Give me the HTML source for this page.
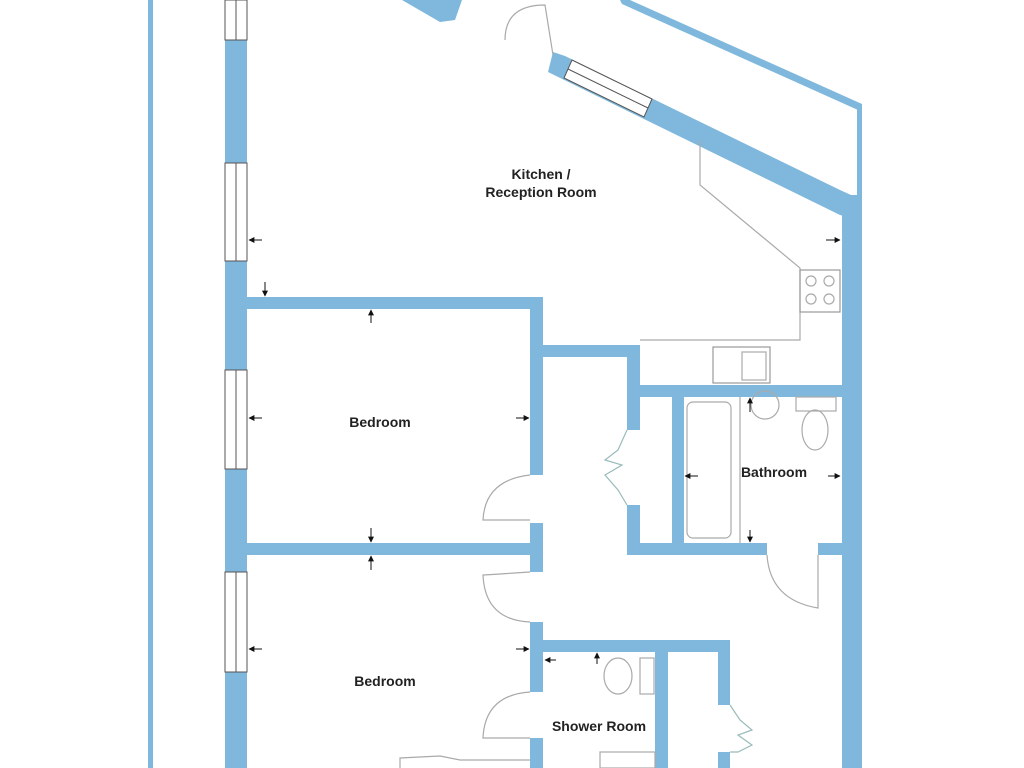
<!DOCTYPE html>
<html><head><meta charset="utf-8"><style>
html,body{margin:0;padding:0;background:#fff;width:1024px;height:768px;overflow:hidden}
svg{display:block}
text{font-family:"Liberation Sans",sans-serif;font-weight:bold;font-size:14px;fill:#222;text-anchor:middle}
</style></head><body>
<svg width="1024" height="768" viewBox="0 0 1024 768" xmlns="http://www.w3.org/2000/svg">
<defs>
<marker id="a" viewBox="0 0 10 10" refX="9" refY="5" markerWidth="6" markerHeight="6" orient="auto"><path d="M0,0L10,5L0,10z" fill="#111"/></marker>
</defs>
<g fill="#7fb8dc">
<!-- outer thin left line -->
<rect x="148" y="0" width="5" height="768"/>
<!-- left wall -->
<rect x="225" y="0" width="22" height="768"/>
<!-- top diagonal piece -->
<polygon points="402,0 462,0 455,20 440,22"/>
<!-- diagonal wall -->
<polygon points="553,52 565,56 840,190 862,200 862,220 840,215 548,72"/>
<!-- thin diagonal outer -->
<polygon points="620,0 630,0 862,104 862,110 858,110 622,4"/>
<rect x="857" y="106" width="5" height="95"/>
<!-- right wall -->
<rect x="842" y="195" width="20" height="573"/>
<!-- bedroom1 top wall -->
<rect x="247" y="297" width="296" height="12"/>
<rect x="530" y="297" width="13" height="178"/>
<rect x="530" y="523" width="13" height="49"/>
<rect x="247" y="543" width="296" height="12"/>
<rect x="530" y="622" width="13" height="70"/>
<rect x="530" y="738" width="13" height="30"/>
<!-- hallway/kitchen wall -->
<rect x="543" y="345" width="97" height="12"/>
<rect x="627" y="345" width="13" height="85"/>
<rect x="627" y="505" width="13" height="50"/>
<rect x="627" y="385" width="215" height="12"/>
<rect x="672" y="397" width="12" height="150"/>
<rect x="627" y="543" width="140" height="12"/>
<rect x="818" y="543" width="24" height="12"/>
<!-- shower room -->
<rect x="543" y="640" width="187" height="12"/>
<rect x="718" y="640" width="12" height="65"/>
<rect x="718" y="752" width="12" height="16"/>
<rect x="655" y="652" width="13" height="116"/>
</g>
<!-- closets zigzags -->
<polyline points="627,430 618,450 605,460 622,465 605,475 618,490 627,505" fill="none" stroke="#9bb" stroke-width="1.2"/>
<polyline points="730,705 740,720 752,730 738,735 752,745 738,752 730,752" fill="none" stroke="#9bb" stroke-width="1.2"/>
<!-- windows -->
<g fill="#fff" stroke="#555" stroke-width="1">
<rect x="225" y="0" width="22" height="40"/><line x1="236" y1="0" x2="236" y2="40"/>
<rect x="225" y="163" width="22" height="98"/><line x1="236" y1="163" x2="236" y2="261"/>
<rect x="225" y="370" width="22" height="99"/><line x1="236" y1="370" x2="236" y2="469"/>
<rect x="225" y="572" width="22" height="100"/><line x1="236" y1="572" x2="236" y2="672"/>
<polygon points="572,60 652,99 644,117 564,78"/><line x1="568" y1="69" x2="648" y2="108"/>
</g>
<!-- doors -->
<g fill="none" stroke="#aaa" stroke-width="1.2">
<path d="M505,40 Q505,5 545,5 L553,55"/>
<path d="M530,475 Q485,480 483,520 L530,520"/>
<path d="M530,572 Q485,575 483,575 Q485,620 530,622"/>
<path d="M530,692 Q485,695 483,738 L530,738"/>
<path d="M767,555 Q770,600 818,608 L818,555"/>
<!-- kitchen counter -->
<polyline points="700,140 700,185 800,268 800,340 640,340"/>
<rect x="800" y="270" width="40" height="42" stroke="#999"/>
<circle cx="811" cy="281" r="5"/><circle cx="829" cy="281" r="5"/><circle cx="811" cy="299" r="5"/><circle cx="829" cy="299" r="5"/>
<rect x="713" y="347" width="57" height="36" stroke="#999"/>
<rect x="742" y="352" width="24" height="28"/>
<!-- bath -->
<rect x="687" y="402" width="44" height="136" rx="6"/>
<line x1="740" y1="397" x2="740" y2="543"/>
<circle cx="765" cy="405" r="14"/>
<rect x="796" y="397" width="40" height="14"/>
<ellipse cx="815" cy="430" rx="13" ry="20"/>
<!-- shower room fixtures -->
<ellipse cx="618" cy="676" rx="14" ry="18"/>
<rect x="640" y="658" width="14" height="36"/>
<rect x="600" y="752" width="55" height="16"/>
<path d="M400,768 L400,758 L440,756 L460,760 L530,760"/>
</g>
<!-- dimension arrows -->
<g stroke="#111" stroke-width="1" marker-end="url(#a)">
<line x1="262" y1="240" x2="249" y2="240"/>
<line x1="826" y1="240" x2="840" y2="240"/>
<line x1="265" y1="282" x2="265" y2="296"/>
<line x1="371" y1="323" x2="371" y2="310"/>
<line x1="262" y1="418" x2="249" y2="418"/>
<line x1="516" y1="418" x2="529" y2="418"/>
<line x1="371" y1="528" x2="371" y2="542"/>
<line x1="371" y1="570" x2="371" y2="556"/>
<line x1="262" y1="649" x2="249" y2="649"/>
<line x1="516" y1="649" x2="529" y2="649"/>
<line x1="556" y1="660" x2="545" y2="660"/>
<line x1="597" y1="664" x2="597" y2="653"/>
<line x1="698" y1="476" x2="685" y2="476"/>
<line x1="828" y1="476" x2="840" y2="476"/>
<line x1="750" y1="412" x2="750" y2="398"/>
<line x1="750" y1="530" x2="750" y2="542"/>
</g>
<text x="541" y="179">Kitchen /</text>
<text x="541" y="197">Reception Room</text>
<text x="380" y="427">Bedroom</text>
<text x="385" y="686">Bedroom</text>
<text x="774" y="477">Bathroom</text>
<text x="599" y="731">Shower Room</text>
</svg>
</body></html>
